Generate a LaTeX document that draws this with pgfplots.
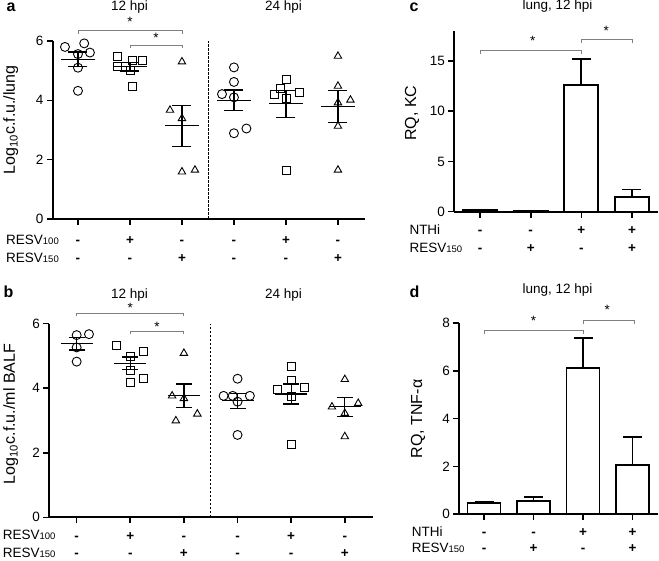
\documentclass[border=0pt]{standalone}
\usepackage{fontspec}
\setmainfont{Liberation Sans}
\usepackage{pgfplots}
\pgfplotsset{compat=1.18}
\newcommand{\fs}[1]{\fontsize{#1}{#1}\selectfont}
\definecolor{brk}{HTML}{808080}
\tikzset{sg/.style={anchor=base, font=\bfseries\fs{13.5}}}
\pgfplotsset{
  panel/.style={
    scale only axis, anchor=south west,
    axis lines*=left,
    axis line style={line width=1.8pt},
    tick align=outside, major tick length=6pt,
    tick style={black, line width=1.6pt},
    xticklabels={},
    yticklabel style={font=\fs{13.5}},
    /pgf/number format/assume math mode=true,
    clip=false,
  },
  pts/.style={black, only marks, mark options={line width=0.9pt}},
  meanA/.style={black, only marks, mark=-, mark size=17pt, mark options={line width=1.2pt},
    error bars/.cd, y dir=both, y explicit, error mark=|, error bar style={line width=1.2pt},
    error mark options={mark size=9.5pt, line width=1.2pt}},
  meanB/.style={black, only marks, mark=-, mark size=16pt, mark options={line width=1.2pt},
    error bars/.cd, y dir=both, y explicit, error mark=|, error bar style={line width=1.2pt},
    error mark options={mark size=8pt, line width=1.2pt}},
  bars/.style={black, ybar, bar width=#1, fill=white, line width=1.8pt,
    error bars/.cd, y dir=plus, y explicit, error mark=|, error bar style={line width=1.8pt},
    error mark options={mark size=9.5pt, line width=1.8pt}},
}
\begin{document}
\begin{tikzpicture}
\path[use as bounding box] (0,0) rectangle (659pt,560pt);

% ---------------- panel a ----------------
\begin{axis}[panel, at={(53pt,341pt)}, width=312pt, height=178pt,
  xmin=0.52, xmax=6.52, ymin=0, ymax=6, xtick={1,...,6}, ytick={0,2,4,6}]
\addplot[pts, mark=o, mark size=4.5pt] coordinates {
 (0.75,5.80) (1.12,5.92) (1.0,5.56) (1.23,5.61) (1.0,5.10) (1.0,4.32)};
\addplot[pts, mark=square, mark size=4pt] coordinates {
 (1.75,5.49) (2.05,5.33) (2.24,5.33) (1.75,5.13) (2.0,5.0) (2.05,4.48)};
\addplot[pts, mark=triangle, mark size=4.3pt] coordinates {
 (3.0,5.30) (2.77,3.67) (3.0,3.39) (3.0,1.59) (3.25,1.65)};
\addplot[pts, mark=o, mark size=4.5pt] coordinates {
 (4.0,5.11) (4.0,4.62) (3.77,4.21) (4.0,4.10) (4.0,2.89) (4.24,3.05)};
\addplot[pts, mark=square, mark size=4pt] coordinates {
 (5.0,4.70) (4.9,4.39) (4.78,4.21) (5.26,4.28) (5.0,4.05) (5.0,1.65)};
\addplot[pts, mark=triangle, mark size=4.3pt] coordinates {
 (6.0,5.49) (6.0,4.48) (6.0,3.92) (6.24,4.01) (6.0,3.13) (6.0,1.65)};
\addplot[meanA] coordinates {
 (1,5.38) +- (0,0.25) (2,5.13) +- (0,0.14) (3,3.14) +- (0,0.69)
 (4,4.00) +- (0,0.35) (5,3.88) +- (0,0.46) (6,3.78) +- (0,0.54)};
\draw[black, line width=0.9pt, dash pattern=on 2.5pt off 1.5pt] (axis cs:3.5,0) -- (axis cs:3.5,6);
\draw[brk, line width=0.9pt] (axis cs:1,6.25) |- (axis cs:3,6.34) -- (axis cs:3,6.25);
\draw[brk, line width=0.9pt] (axis cs:2,5.76) |- (axis cs:3,5.85) -- (axis cs:3,5.76);
\node[font=\fs{13.5}] at (axis cs:2,6.64) {*};
\node[font=\fs{13.5}] at (axis cs:2.5,6.09) {*};
\node[sg] at (axis cs:1,0) [yshift=-26pt] {-};
\node[sg] at (axis cs:2,0) [yshift=-26pt] {+};
\node[sg] at (axis cs:3,0) [yshift=-26pt] {-};
\node[sg] at (axis cs:4,0) [yshift=-26pt] {-};
\node[sg] at (axis cs:5,0) [yshift=-26pt] {+};
\node[sg] at (axis cs:6,0) [yshift=-26pt] {-};
\node[sg] at (axis cs:1,0) [yshift=-43.5pt] {-};
\node[sg] at (axis cs:2,0) [yshift=-43.5pt] {-};
\node[sg] at (axis cs:3,0) [yshift=-43.5pt] {+};
\node[sg] at (axis cs:4,0) [yshift=-43.5pt] {-};
\node[sg] at (axis cs:5,0) [yshift=-43.5pt] {-};
\node[sg] at (axis cs:6,0) [yshift=-43.5pt] {+};
\end{axis}

% ---------------- panel b ----------------
\begin{axis}[panel, at={(49.3pt,42.7pt)}, width=323.4pt, height=193.8pt,
  xmin=0.49, xmax=6.52, ymin=0, ymax=6, xtick={1,...,6}, ytick={0,2,4,6}]
\addplot[pts, mark=o, mark size=4.5pt] coordinates {
 (1.0,5.64) (1.23,5.67) (1.0,5.26) (1.0,4.82)};
\addplot[pts, mark=square, mark size=4pt] coordinates {
 (1.75,5.33) (2.0,4.99) (2.25,5.15) (2.0,4.56) (2.24,4.30) (2.0,4.17)};
\addplot[pts, mark=triangle, mark size=4.3pt] coordinates {
 (3.0,5.08) (2.78,3.76) (3.0,3.68) (3.25,3.20) (2.85,2.99)};
\addplot[pts, mark=o, mark size=4.5pt] coordinates {
 (4.0,4.29) (3.74,3.76) (3.91,3.76) (4.23,3.76) (4.0,3.58) (4.0,2.55)};
\addplot[pts, mark=square, mark size=4pt] coordinates {
 (5.0,4.68) (5.0,4.25) (4.75,3.96) (5.24,4.01) (5.0,3.73) (5.0,2.27)};
\addplot[pts, mark=triangle, mark size=4.3pt] coordinates {
 (6.0,4.27) (5.76,3.42) (6.25,3.53) (6.0,3.22) (6.0,2.50)};
\addplot[meanB] coordinates {
 (1,5.37) +- (0,0.19) (2,4.77) +- (0,0.19) (3,3.76) +- (0,0.37)
 (4,3.61) +- (0,0.23) (5,3.82) +- (0,0.31) (6,3.42) +- (0,0.30)};
\draw[black, line width=0.9pt, dash pattern=on 2.5pt off 1.5pt] (axis cs:3.5,0) -- (axis cs:3.5,6);
\draw[brk, line width=0.9pt] (axis cs:1,6.23) |- (axis cs:3,6.32) -- (axis cs:3,6.23);
\draw[brk, line width=0.9pt] (axis cs:2,5.66) |- (axis cs:3,5.75) -- (axis cs:3,5.66);
\node[font=\fs{13.5}] at (axis cs:2,6.47) {*};
\node[font=\fs{13.5}] at (axis cs:2.5,5.90) {*};
\node[sg] at (axis cs:1,0) [yshift=-22.7pt] {-};
\node[sg] at (axis cs:2,0) [yshift=-22.7pt] {+};
\node[sg] at (axis cs:3,0) [yshift=-22.7pt] {-};
\node[sg] at (axis cs:4,0) [yshift=-22.7pt] {-};
\node[sg] at (axis cs:5,0) [yshift=-22.7pt] {+};
\node[sg] at (axis cs:6,0) [yshift=-22.7pt] {-};
\node[sg] at (axis cs:1,0) [yshift=-40pt] {-};
\node[sg] at (axis cs:2,0) [yshift=-40pt] {-};
\node[sg] at (axis cs:3,0) [yshift=-40pt] {+};
\node[sg] at (axis cs:4,0) [yshift=-40pt] {-};
\node[sg] at (axis cs:5,0) [yshift=-40pt] {-};
\node[sg] at (axis cs:6,0) [yshift=-40pt] {+};
\end{axis}

% ---------------- panel c ----------------
\begin{axis}[panel, at={(454.3pt,348.3pt)}, width=204pt, height=180.9pt,
  xmin=0.49, xmax=4.52, ymin=0, ymax=18, xtick={1,...,4}, ytick={0,5,10,15}]
\addplot[bars=34pt] coordinates {
 (1,0.15) +- (0,0.03) (2,0.08) +- (0,0.02) (3,12.6) +- (0,2.6) (4,1.5) +- (0,0.7)};
\draw[brk, line width=0.9pt] (axis cs:1,15.7) |- (axis cs:3,16.09) -- (axis cs:3,15.7);
\draw[brk, line width=0.9pt] (axis cs:3,16.82) |- (axis cs:4,17.15) -- (axis cs:4,16.82);
\node[font=\fs{13.5}] at (axis cs:2.04,17.0) {*};
\node[font=\fs{13.5}] at (axis cs:3.49,18.0) {*};
\node[sg] at (axis cs:1,0) [yshift=-23.3pt] {-};
\node[sg] at (axis cs:2,0) [yshift=-23.3pt] {-};
\node[sg] at (axis cs:3,0) [yshift=-23.3pt] {+};
\node[sg] at (axis cs:4,0) [yshift=-23.3pt] {+};
\node[sg] at (axis cs:1,0) [yshift=-41pt] {-};
\node[sg] at (axis cs:2,0) [yshift=-41pt] {+};
\node[sg] at (axis cs:3,0) [yshift=-41pt] {-};
\node[sg] at (axis cs:4,0) [yshift=-41pt] {+};
\end{axis}

% ---------------- panel d ----------------
\begin{axis}[panel, at={(459.3pt,46pt)}, width=199pt, height=190.7pt,
  xmin=0.5, xmax=4.52, ymin=0, ymax=8, xtick={1,...,4}, ytick={0,2,4,6,8}]
\addplot[bars=33pt] coordinates {
 (1,0.47) +- (0,0.05) (2,0.55) +- (0,0.15) (3,6.14) +- (0,1.23) (4,2.06) +- (0,1.18)};
\draw[brk, line width=0.9pt] (axis cs:1,7.57) |- (axis cs:3,7.72) -- (axis cs:3,7.57);
\draw[brk, line width=0.9pt] (axis cs:3,7.96) |- (axis cs:4.03,8.10) -- (axis cs:4.03,7.96);
\node[font=\fs{13.5}] at (axis cs:2,8.11) {*};
\node[font=\fs{13.5}] at (axis cs:3.49,8.56) {*};
\node[sg] at (axis cs:1,0) [yshift=-22.5pt] {-};
\node[sg] at (axis cs:2,0) [yshift=-22.5pt] {-};
\node[sg] at (axis cs:3,0) [yshift=-22.5pt] {+};
\node[sg] at (axis cs:4,0) [yshift=-22.5pt] {+};
\node[sg] at (axis cs:1,0) [yshift=-38pt] {-};
\node[sg] at (axis cs:2,0) [yshift=-38pt] {+};
\node[sg] at (axis cs:3,0) [yshift=-38pt] {-};
\node[sg] at (axis cs:4,0) [yshift=-38pt] {+};
\end{axis}

% ---------------- texts ----------------
\node[anchor=base west, font=\bfseries\fs{16}] at (3pt,548pt) {a};
\node[anchor=base west, font=\bfseries\fs{16}] at (0pt,262pt) {b};
\node[anchor=base west, font=\bfseries\fs{16}] at (406pt,548pt) {c};
\node[anchor=base west, font=\bfseries\fs{16}] at (406pt,262pt) {d};

\node[anchor=base, font=\fs{13.5}] at (129.5pt,549.5pt) {12 hpi};
\node[anchor=base, font=\fs{13.5}] at (283.5pt,549.5pt) {24 hpi};
\node[anchor=base, font=\fs{13.5}] at (129.5pt,261.5pt) {12 hpi};
\node[anchor=base, font=\fs{13.5}] at (283.5pt,261.5pt) {24 hpi};
\node[anchor=base, font=\fs{13.5}] at (557.5pt,550pt) {lung, 12 hpi};
\node[anchor=base, font=\fs{13.5}] at (557.5pt,266pt) {lung, 12 hpi};

\node[anchor=base, rotate=90, font=\fs{16}] at (15pt,440pt) {Log\textsubscript{10}c.f.u./lung};
\node[anchor=base, rotate=90, font=\fs{16}] at (15pt,146pt) {Log\textsubscript{10}c.f.u./ml BALF};
\node[anchor=base, rotate=90, font=\fs{16}] at (416pt,446.7pt) {RQ, KC};
\node[anchor=base, rotate=90, font=\fs{16}] at (422pt,141pt) {RQ, TNF-α};

\node[anchor=base west, inner sep=0pt, font=\fs{13.5}] at (6pt,315pt) {RESV{\fs{9.5}100}};
\node[anchor=base west, inner sep=0pt, font=\fs{13.5}] at (6pt,297.5pt) {RESV{\fs{9.5}150}};
\node[anchor=base west, inner sep=0pt, font=\fs{13.5}] at (2.7pt,20pt) {RESV{\fs{9.5}100}};
\node[anchor=base west, inner sep=0pt, font=\fs{13.5}] at (2.7pt,2.7pt) {RESV{\fs{9.5}150}};
\node[anchor=base west, inner sep=0pt, font=\fs{13.5}] at (409.3pt,325pt) {NTHi};
\node[anchor=base west, inner sep=0pt, font=\fs{13.5}] at (409.3pt,307.3pt) {RESV{\fs{9.5}150}};
\node[anchor=base west, inner sep=0pt, font=\fs{13.5}] at (411.7pt,23.5pt) {NTHi};
\node[anchor=base west, inner sep=0pt, font=\fs{13.5}] at (411.7pt,8pt) {RESV{\fs{9.5}150}};
\end{tikzpicture}
\end{document}
